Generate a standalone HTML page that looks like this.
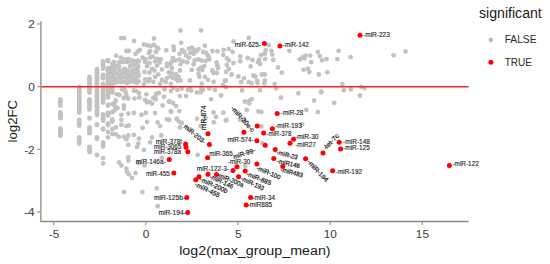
<!DOCTYPE html><html><head><meta charset="utf-8"><style>html,body{margin:0;padding:0;background:#fff;}svg{display:block;}text{font-family:"Liberation Sans",sans-serif;}</style></head><body>
<svg width="550" height="264" viewBox="0 0 550 264">
<rect width="550" height="264" fill="#fff"/>
<g fill="#c2c2c2"><circle cx="121.2" cy="38.1" r="2.4"/><circle cx="124.2" cy="38.1" r="2.4"/><circle cx="134.1" cy="40.9" r="2.4"/><circle cx="154.0" cy="38.5" r="2.4"/><circle cx="180.5" cy="30.5" r="2.4"/><circle cx="181.1" cy="42.8" r="2.4"/><circle cx="143.9" cy="44.5" r="2.4"/><circle cx="147.3" cy="45.3" r="2.4"/><circle cx="150.8" cy="45.9" r="2.4"/><circle cx="154.0" cy="44.9" r="2.4"/><circle cx="156.8" cy="47.6" r="2.4"/><circle cx="158.3" cy="48.7" r="2.4"/><circle cx="139.8" cy="50.0" r="2.4"/><circle cx="137.9" cy="51.4" r="2.4"/><circle cx="135.6" cy="53.8" r="2.4"/><circle cx="126.5" cy="51.0" r="2.4"/><circle cx="128.8" cy="51.0" r="2.4"/><circle cx="150.2" cy="51.0" r="2.4"/><circle cx="148.9" cy="52.9" r="2.4"/><circle cx="155.9" cy="51.9" r="2.4"/><circle cx="166.3" cy="50.4" r="2.4"/><circle cx="173.5" cy="46.3" r="2.4"/><circle cx="173.9" cy="50.0" r="2.4"/><circle cx="182.0" cy="50.0" r="2.4"/><circle cx="184.3" cy="51.9" r="2.4"/><circle cx="179.5" cy="53.8" r="2.4"/><circle cx="189.0" cy="48.7" r="2.4"/><circle cx="191.9" cy="47.6" r="2.4"/><circle cx="193.8" cy="50.0" r="2.4"/><circle cx="196.6" cy="51.0" r="2.4"/><circle cx="198.5" cy="49.1" r="2.4"/><circle cx="190.5" cy="52.9" r="2.4"/><circle cx="193.8" cy="53.8" r="2.4"/><circle cx="186.2" cy="55.7" r="2.4"/><circle cx="189.0" cy="57.6" r="2.4"/><circle cx="201.1" cy="30.4" r="2.4"/><circle cx="116.1" cy="55.7" r="2.4"/><circle cx="107.6" cy="60.1" r="2.4"/><circle cx="102.8" cy="61.4" r="2.4"/><circle cx="120.8" cy="57.6" r="2.4"/><circle cx="124.6" cy="59.5" r="2.4"/><circle cx="128.4" cy="58.9" r="2.4"/><circle cx="132.6" cy="60.5" r="2.4"/><circle cx="136.9" cy="60.8" r="2.4"/><circle cx="142.6" cy="57.6" r="2.4"/><circle cx="145.5" cy="59.5" r="2.4"/><circle cx="150.2" cy="57.6" r="2.4"/><circle cx="152.7" cy="56.7" r="2.4"/><circle cx="156.8" cy="58.9" r="2.4"/><circle cx="160.6" cy="59.5" r="2.4"/><circle cx="172.9" cy="58.2" r="2.4"/><circle cx="175.4" cy="60.5" r="2.4"/><circle cx="179.5" cy="59.5" r="2.4"/><circle cx="183.3" cy="61.4" r="2.4"/><circle cx="187.1" cy="62.3" r="2.4"/><circle cx="194.7" cy="60.5" r="2.4"/><circle cx="198.5" cy="59.5" r="2.4"/><circle cx="248.7" cy="38.0" r="2.4"/><circle cx="233.5" cy="41.4" r="2.4"/><circle cx="268.6" cy="45.2" r="2.4"/><circle cx="228.8" cy="48.9" r="2.4"/><circle cx="232.6" cy="51.8" r="2.4"/><circle cx="226.9" cy="58.4" r="2.4"/><circle cx="228.8" cy="60.3" r="2.4"/><circle cx="233.5" cy="63.1" r="2.4"/><circle cx="240.2" cy="56.5" r="2.4"/><circle cx="240.2" cy="61.3" r="2.4"/><circle cx="247.7" cy="58.0" r="2.4"/><circle cx="252.5" cy="59.9" r="2.4"/><circle cx="250.6" cy="66.4" r="2.4"/><circle cx="259.1" cy="59.9" r="2.4"/><circle cx="260.0" cy="64.1" r="2.4"/><circle cx="258.1" cy="62.2" r="2.4"/><circle cx="261.0" cy="55.0" r="2.4"/><circle cx="264.8" cy="53.7" r="2.4"/><circle cx="265.7" cy="50.5" r="2.4"/><circle cx="271.4" cy="50.8" r="2.4"/><circle cx="272.3" cy="54.6" r="2.4"/><circle cx="265.2" cy="58.8" r="2.4"/><circle cx="273.3" cy="59.9" r="2.4"/><circle cx="278.0" cy="67.5" r="2.4"/><circle cx="289.4" cy="50.8" r="2.4"/><circle cx="281.8" cy="72.6" r="2.4"/><circle cx="299.8" cy="59.4" r="2.4"/><circle cx="302.7" cy="57.5" r="2.4"/><circle cx="305.5" cy="55.6" r="2.4"/><circle cx="310.2" cy="55.6" r="2.4"/><circle cx="304.5" cy="58.4" r="2.4"/><circle cx="311.2" cy="62.2" r="2.4"/><circle cx="317.8" cy="51.8" r="2.4"/><circle cx="319.7" cy="56.1" r="2.4"/><circle cx="322.0" cy="60.3" r="2.4"/><circle cx="303.6" cy="69.8" r="2.4"/><circle cx="308.0" cy="68.8" r="2.4"/><circle cx="309.3" cy="72.0" r="2.4"/><circle cx="318.8" cy="74.5" r="2.4"/><circle cx="228.8" cy="68.8" r="2.4"/><circle cx="231.6" cy="74.5" r="2.4"/><circle cx="238.3" cy="76.4" r="2.4"/><circle cx="243.9" cy="78.3" r="2.4"/><circle cx="253.4" cy="75.5" r="2.4"/><circle cx="255.3" cy="76.4" r="2.4"/><circle cx="261.9" cy="74.5" r="2.4"/><circle cx="264.8" cy="74.5" r="2.4"/><circle cx="338.6" cy="50.8" r="2.4"/><circle cx="326.5" cy="59.1" r="2.4"/><circle cx="337.3" cy="59.1" r="2.4"/><circle cx="350.6" cy="57.2" r="2.4"/><circle cx="393.6" cy="55.3" r="2.4"/><circle cx="405.5" cy="51.4" r="2.4"/><circle cx="327.3" cy="72.3" r="2.4"/><circle cx="342.4" cy="84.1" r="2.4"/><circle cx="343.9" cy="90.2" r="2.4"/><circle cx="350.9" cy="89.2" r="2.4"/><circle cx="361.4" cy="86.9" r="2.4"/><circle cx="364.4" cy="88.3" r="2.4"/><circle cx="360.0" cy="95.5" r="2.4"/><circle cx="321.5" cy="92.2" r="2.4"/><circle cx="334.2" cy="102.9" r="2.4"/><circle cx="225.9" cy="80.7" r="2.4"/><circle cx="241.1" cy="82.2" r="2.4"/><circle cx="248.7" cy="82.2" r="2.4"/><circle cx="251.5" cy="83.5" r="2.4"/><circle cx="257.2" cy="80.7" r="2.4"/><circle cx="257.6" cy="83.0" r="2.4"/><circle cx="264.8" cy="80.7" r="2.4"/><circle cx="264.4" cy="83.5" r="2.4"/><circle cx="274.6" cy="84.1" r="2.4"/><circle cx="276.1" cy="88.3" r="2.4"/><circle cx="260.0" cy="90.2" r="2.4"/><circle cx="242.0" cy="90.5" r="2.4"/><circle cx="226.0" cy="87.3" r="2.4"/><circle cx="244.9" cy="101.5" r="2.4"/><circle cx="249.6" cy="100.6" r="2.4"/><circle cx="251.5" cy="99.2" r="2.4"/><circle cx="249.2" cy="103.4" r="2.4"/><circle cx="246.8" cy="110.0" r="2.4"/><circle cx="225.9" cy="120.5" r="2.4"/><circle cx="243.9" cy="118.9" r="2.4"/><circle cx="298.4" cy="93.4" r="2.4"/><circle cx="320.9" cy="91.7" r="2.4"/><circle cx="280.9" cy="97.7" r="2.4"/><circle cx="314.1" cy="100.6" r="2.4"/><circle cx="306.4" cy="110.0" r="2.4"/><circle cx="317.9" cy="112.2" r="2.4"/><circle cx="302.2" cy="124.5" r="2.4"/><circle cx="258.4" cy="111.4" r="2.4"/><circle cx="261.3" cy="111.9" r="2.4"/><circle cx="261.3" cy="126.5" r="2.4"/><circle cx="262.4" cy="143.2" r="2.4"/><circle cx="204.8" cy="45.7" r="2.4"/><circle cx="203.3" cy="51.9" r="2.4"/><circle cx="206.1" cy="52.9" r="2.4"/><circle cx="208.0" cy="55.7" r="2.4"/><circle cx="208.9" cy="57.6" r="2.4"/><circle cx="212.3" cy="51.0" r="2.4"/><circle cx="217.5" cy="51.4" r="2.4"/><circle cx="223.7" cy="50.0" r="2.4"/><circle cx="223.1" cy="54.8" r="2.4"/><circle cx="201.4" cy="60.5" r="2.4"/><circle cx="216.5" cy="62.3" r="2.4"/><circle cx="60.4" cy="99.3" r="2.4"/><circle cx="60.4" cy="100.9" r="2.4"/><circle cx="60.4" cy="102.5" r="2.4"/><circle cx="60.4" cy="104.1" r="2.4"/><circle cx="60.4" cy="105.7" r="2.4"/><circle cx="60.4" cy="112.4" r="2.4"/><circle cx="60.4" cy="113.8" r="2.4"/><circle cx="60.4" cy="115.3" r="2.4"/><circle cx="60.4" cy="116.8" r="2.4"/><circle cx="60.4" cy="118.2" r="2.4"/><circle cx="60.4" cy="128.7" r="2.4"/><circle cx="60.4" cy="130.1" r="2.4"/><circle cx="60.4" cy="131.5" r="2.4"/><circle cx="60.4" cy="132.9" r="2.4"/><circle cx="60.4" cy="134.3" r="2.4"/><circle cx="60.4" cy="135.7" r="2.4"/><circle cx="79.2" cy="86.9" r="2.4"/><circle cx="79.2" cy="88.4" r="2.4"/><circle cx="79.2" cy="89.9" r="2.4"/><circle cx="79.2" cy="91.4" r="2.4"/><circle cx="79.2" cy="92.9" r="2.4"/><circle cx="79.2" cy="94.5" r="2.4"/><circle cx="79.2" cy="96.0" r="2.4"/><circle cx="79.2" cy="97.5" r="2.4"/><circle cx="79.2" cy="99.0" r="2.4"/><circle cx="79.2" cy="100.5" r="2.4"/><circle cx="79.2" cy="102.0" r="2.4"/><circle cx="79.2" cy="103.5" r="2.4"/><circle cx="79.2" cy="105.0" r="2.4"/><circle cx="79.2" cy="106.6" r="2.4"/><circle cx="79.2" cy="108.1" r="2.4"/><circle cx="79.2" cy="109.6" r="2.4"/><circle cx="79.2" cy="111.1" r="2.4"/><circle cx="79.2" cy="112.6" r="2.4"/><circle cx="79.2" cy="119.9" r="2.4"/><circle cx="79.2" cy="121.3" r="2.4"/><circle cx="79.2" cy="122.8" r="2.4"/><circle cx="79.2" cy="124.2" r="2.4"/><circle cx="79.2" cy="125.7" r="2.4"/><circle cx="79.2" cy="137.4" r="2.4"/><circle cx="79.2" cy="138.9" r="2.4"/><circle cx="79.2" cy="140.5" r="2.4"/><circle cx="79.2" cy="142.1" r="2.4"/><circle cx="79.2" cy="143.6" r="2.4"/><circle cx="89.5" cy="77.0" r="2.4"/><circle cx="89.5" cy="78.6" r="2.4"/><circle cx="89.5" cy="80.1" r="2.4"/><circle cx="89.5" cy="81.7" r="2.4"/><circle cx="89.5" cy="83.2" r="2.4"/><circle cx="89.5" cy="84.8" r="2.4"/><circle cx="89.5" cy="86.4" r="2.4"/><circle cx="89.5" cy="87.9" r="2.4"/><circle cx="89.5" cy="89.5" r="2.4"/><circle cx="89.5" cy="91.0" r="2.4"/><circle cx="89.5" cy="92.6" r="2.4"/><circle cx="89.5" cy="99.3" r="2.4"/><circle cx="89.5" cy="100.8" r="2.4"/><circle cx="89.5" cy="102.2" r="2.4"/><circle cx="89.5" cy="103.7" r="2.4"/><circle cx="89.5" cy="105.1" r="2.4"/><circle cx="89.5" cy="106.6" r="2.4"/><circle cx="89.5" cy="108.0" r="2.4"/><circle cx="89.5" cy="109.5" r="2.4"/><circle cx="89.5" cy="118.0" r="2.4"/><circle cx="89.5" cy="118.2" r="2.4"/><circle cx="89.5" cy="127.4" r="2.4"/><circle cx="89.5" cy="128.8" r="2.4"/><circle cx="89.5" cy="130.3" r="2.4"/><circle cx="89.5" cy="131.8" r="2.4"/><circle cx="89.5" cy="133.2" r="2.4"/><circle cx="89.5" cy="146.8" r="2.4"/><circle cx="89.5" cy="148.1" r="2.4"/><circle cx="89.5" cy="149.4" r="2.4"/><circle cx="89.5" cy="150.7" r="2.4"/><circle cx="89.5" cy="152.0" r="2.4"/><circle cx="97.0" cy="69.1" r="2.4"/><circle cx="97.0" cy="70.7" r="2.4"/><circle cx="97.0" cy="72.3" r="2.4"/><circle cx="97.0" cy="73.9" r="2.4"/><circle cx="97.0" cy="75.4" r="2.4"/><circle cx="97.0" cy="77.0" r="2.4"/><circle cx="97.0" cy="78.6" r="2.4"/><circle cx="97.0" cy="80.2" r="2.4"/><circle cx="97.0" cy="81.8" r="2.4"/><circle cx="97.0" cy="83.4" r="2.4"/><circle cx="97.0" cy="85.0" r="2.4"/><circle cx="97.0" cy="86.5" r="2.4"/><circle cx="97.0" cy="88.1" r="2.4"/><circle cx="97.0" cy="89.7" r="2.4"/><circle cx="97.0" cy="91.3" r="2.4"/><circle cx="97.0" cy="92.9" r="2.4"/><circle cx="97.0" cy="94.5" r="2.4"/><circle cx="97.0" cy="96.1" r="2.4"/><circle cx="97.0" cy="97.7" r="2.4"/><circle cx="97.0" cy="99.2" r="2.4"/><circle cx="97.0" cy="100.8" r="2.4"/><circle cx="97.0" cy="102.4" r="2.4"/><circle cx="97.0" cy="104.0" r="2.4"/><circle cx="97.0" cy="105.6" r="2.4"/><circle cx="97.0" cy="107.2" r="2.4"/><circle cx="97.0" cy="108.8" r="2.4"/><circle cx="97.0" cy="110.3" r="2.4"/><circle cx="97.0" cy="111.9" r="2.4"/><circle cx="97.0" cy="113.5" r="2.4"/><circle cx="97.0" cy="115.1" r="2.4"/><circle cx="97.0" cy="124.3" r="2.4"/><circle cx="97.0" cy="125.1" r="2.4"/><circle cx="97.0" cy="137.4" r="2.4"/><circle cx="97.0" cy="138.9" r="2.4"/><circle cx="97.0" cy="154.9" r="2.4"/><circle cx="97.0" cy="155.1" r="2.4"/><circle cx="103.1" cy="62.7" r="2.4"/><circle cx="103.1" cy="64.2" r="2.4"/><circle cx="103.1" cy="65.7" r="2.4"/><circle cx="103.1" cy="67.2" r="2.4"/><circle cx="103.1" cy="68.7" r="2.4"/><circle cx="103.1" cy="74.9" r="2.4"/><circle cx="103.1" cy="76.0" r="2.4"/><circle cx="103.1" cy="77.2" r="2.4"/><circle cx="103.1" cy="78.3" r="2.4"/><circle cx="103.1" cy="83.8" r="2.4"/><circle cx="103.1" cy="85.4" r="2.4"/><circle cx="103.1" cy="86.9" r="2.4"/><circle cx="103.1" cy="88.5" r="2.4"/><circle cx="103.1" cy="90.1" r="2.4"/><circle cx="103.1" cy="91.6" r="2.4"/><circle cx="103.1" cy="93.2" r="2.4"/><circle cx="103.1" cy="94.8" r="2.4"/><circle cx="103.1" cy="96.3" r="2.4"/><circle cx="103.1" cy="97.9" r="2.4"/><circle cx="103.1" cy="99.5" r="2.4"/><circle cx="103.1" cy="101.0" r="2.4"/><circle cx="103.1" cy="102.6" r="2.4"/><circle cx="103.1" cy="114.3" r="2.4"/><circle cx="103.1" cy="115.9" r="2.4"/><circle cx="103.1" cy="117.5" r="2.4"/><circle cx="103.1" cy="119.1" r="2.4"/><circle cx="103.1" cy="120.7" r="2.4"/><circle cx="103.1" cy="128.6" r="2.4"/><circle cx="103.1" cy="129.5" r="2.4"/><circle cx="103.1" cy="142.4" r="2.4"/><circle cx="103.1" cy="143.7" r="2.4"/><circle cx="103.1" cy="145.1" r="2.4"/><circle cx="103.1" cy="146.4" r="2.4"/><circle cx="103.1" cy="158.1" r="2.4"/><circle cx="103.1" cy="163.4" r="2.4"/><circle cx="108.0" cy="60.3" r="2.4"/><circle cx="108.0" cy="61.2" r="2.4"/><circle cx="108.0" cy="68.1" r="2.4"/><circle cx="108.0" cy="69.7" r="2.4"/><circle cx="108.0" cy="71.2" r="2.4"/><circle cx="108.0" cy="72.8" r="2.4"/><circle cx="108.0" cy="74.3" r="2.4"/><circle cx="108.0" cy="75.9" r="2.4"/><circle cx="108.0" cy="77.4" r="2.4"/><circle cx="108.0" cy="79.0" r="2.4"/><circle cx="108.0" cy="80.5" r="2.4"/><circle cx="108.0" cy="82.1" r="2.4"/><circle cx="108.0" cy="83.6" r="2.4"/><circle cx="108.0" cy="85.2" r="2.4"/><circle cx="108.0" cy="86.7" r="2.4"/><circle cx="108.0" cy="88.3" r="2.4"/><circle cx="108.0" cy="89.8" r="2.4"/><circle cx="108.0" cy="91.4" r="2.4"/><circle cx="108.0" cy="92.9" r="2.4"/><circle cx="108.0" cy="94.5" r="2.4"/><circle cx="108.0" cy="96.0" r="2.4"/><circle cx="108.0" cy="97.6" r="2.4"/><circle cx="108.0" cy="104.9" r="2.4"/><circle cx="108.0" cy="105.7" r="2.4"/><circle cx="108.0" cy="113.0" r="2.4"/><circle cx="108.0" cy="114.3" r="2.4"/><circle cx="108.0" cy="115.6" r="2.4"/><circle cx="108.0" cy="123.4" r="2.4"/><circle cx="108.0" cy="124.2" r="2.4"/><circle cx="108.0" cy="125.1" r="2.4"/><circle cx="108.0" cy="132.0" r="2.4"/><circle cx="108.0" cy="137.3" r="2.4"/><circle cx="112.3" cy="64.0" r="2.4"/><circle cx="112.3" cy="65.6" r="2.4"/><circle cx="112.3" cy="67.2" r="2.4"/><circle cx="112.3" cy="68.8" r="2.4"/><circle cx="112.3" cy="70.4" r="2.4"/><circle cx="112.3" cy="71.9" r="2.4"/><circle cx="112.3" cy="73.5" r="2.4"/><circle cx="112.3" cy="75.1" r="2.4"/><circle cx="112.3" cy="76.7" r="2.4"/><circle cx="112.3" cy="78.3" r="2.4"/><circle cx="112.3" cy="79.9" r="2.4"/><circle cx="112.3" cy="81.5" r="2.4"/><circle cx="112.3" cy="83.1" r="2.4"/><circle cx="112.3" cy="84.7" r="2.4"/><circle cx="112.3" cy="86.2" r="2.4"/><circle cx="112.3" cy="87.8" r="2.4"/><circle cx="112.3" cy="89.4" r="2.4"/><circle cx="112.3" cy="91.0" r="2.4"/><circle cx="112.3" cy="92.6" r="2.4"/><circle cx="112.3" cy="104.0" r="2.4"/><circle cx="112.3" cy="112.0" r="2.4"/><circle cx="112.3" cy="119.4" r="2.4"/><circle cx="112.3" cy="120.5" r="2.4"/><circle cx="112.3" cy="121.6" r="2.4"/><circle cx="112.3" cy="129.0" r="2.4"/><circle cx="112.3" cy="134.0" r="2.4"/><circle cx="113.9" cy="62.5" r="2.4"/><circle cx="121.4" cy="61.9" r="2.4"/><circle cx="128.3" cy="61.3" r="2.4"/><circle cx="133.9" cy="62.5" r="2.4"/><circle cx="138.9" cy="61.3" r="2.4"/><circle cx="145.1" cy="61.9" r="2.4"/><circle cx="149.5" cy="63.1" r="2.4"/><circle cx="155.1" cy="61.3" r="2.4"/><circle cx="159.5" cy="62.5" r="2.4"/><circle cx="167.0" cy="63.8" r="2.4"/><circle cx="171.4" cy="61.9" r="2.4"/><circle cx="114.5" cy="67.5" r="2.4"/><circle cx="118.9" cy="66.3" r="2.4"/><circle cx="124.5" cy="68.8" r="2.4"/><circle cx="130.8" cy="65.6" r="2.4"/><circle cx="136.4" cy="68.1" r="2.4"/><circle cx="147.0" cy="66.3" r="2.4"/><circle cx="152.0" cy="68.8" r="2.4"/><circle cx="157.0" cy="65.6" r="2.4"/><circle cx="162.0" cy="69.4" r="2.4"/><circle cx="167.0" cy="66.3" r="2.4"/><circle cx="113.3" cy="72.5" r="2.4"/><circle cx="117.6" cy="73.8" r="2.4"/><circle cx="123.3" cy="71.9" r="2.4"/><circle cx="127.0" cy="73.1" r="2.4"/><circle cx="132.6" cy="72.5" r="2.4"/><circle cx="137.6" cy="71.3" r="2.4"/><circle cx="144.5" cy="71.9" r="2.4"/><circle cx="149.5" cy="72.5" r="2.4"/><circle cx="154.5" cy="70.6" r="2.4"/><circle cx="158.3" cy="74.4" r="2.4"/><circle cx="168.9" cy="72.5" r="2.4"/><circle cx="115.1" cy="78.1" r="2.4"/><circle cx="120.8" cy="76.9" r="2.4"/><circle cx="125.8" cy="77.5" r="2.4"/><circle cx="130.8" cy="76.3" r="2.4"/><circle cx="135.1" cy="78.8" r="2.4"/><circle cx="138.9" cy="75.6" r="2.4"/><circle cx="145.1" cy="79.4" r="2.4"/><circle cx="149.5" cy="78.8" r="2.4"/><circle cx="155.1" cy="76.9" r="2.4"/><circle cx="162.0" cy="80.0" r="2.4"/><circle cx="167.0" cy="78.1" r="2.4"/><circle cx="170.8" cy="76.3" r="2.4"/><circle cx="115.8" cy="82.5" r="2.4"/><circle cx="121.4" cy="81.9" r="2.4"/><circle cx="127.0" cy="83.1" r="2.4"/><circle cx="132.0" cy="81.3" r="2.4"/><circle cx="136.4" cy="83.1" r="2.4"/><circle cx="143.9" cy="83.8" r="2.4"/><circle cx="148.3" cy="81.3" r="2.4"/><circle cx="153.3" cy="81.9" r="2.4"/><circle cx="160.1" cy="83.8" r="2.4"/><circle cx="165.8" cy="81.9" r="2.4"/><circle cx="170.8" cy="83.8" r="2.4"/><circle cx="193.6" cy="64.3" r="2.4"/><circle cx="205.5" cy="61.1" r="2.4"/><circle cx="209.3" cy="59.3" r="2.4"/><circle cx="170.5" cy="63.6" r="2.4"/><circle cx="180.5" cy="64.3" r="2.4"/><circle cx="171.8" cy="68.0" r="2.4"/><circle cx="191.8" cy="69.9" r="2.4"/><circle cx="198.6" cy="69.3" r="2.4"/><circle cx="201.1" cy="67.4" r="2.4"/><circle cx="202.4" cy="69.9" r="2.4"/><circle cx="204.3" cy="66.1" r="2.4"/><circle cx="179.9" cy="70.5" r="2.4"/><circle cx="217.4" cy="65.5" r="2.4"/><circle cx="218.0" cy="68.0" r="2.4"/><circle cx="226.8" cy="64.9" r="2.4"/><circle cx="212.4" cy="70.5" r="2.4"/><circle cx="213.6" cy="73.0" r="2.4"/><circle cx="216.8" cy="73.0" r="2.4"/><circle cx="226.1" cy="71.8" r="2.4"/><circle cx="171.8" cy="73.0" r="2.4"/><circle cx="176.1" cy="74.3" r="2.4"/><circle cx="178.6" cy="76.8" r="2.4"/><circle cx="173.0" cy="78.0" r="2.4"/><circle cx="175.5" cy="78.6" r="2.4"/><circle cx="177.4" cy="80.5" r="2.4"/><circle cx="180.5" cy="80.5" r="2.4"/><circle cx="198.6" cy="73.6" r="2.4"/><circle cx="199.3" cy="76.8" r="2.4"/><circle cx="204.9" cy="76.8" r="2.4"/><circle cx="208.0" cy="79.9" r="2.4"/><circle cx="189.9" cy="80.5" r="2.4"/><circle cx="213.6" cy="81.8" r="2.4"/><circle cx="224.9" cy="80.5" r="2.4"/><circle cx="201.8" cy="83.6" r="2.4"/><circle cx="173.0" cy="88.0" r="2.4"/><circle cx="177.4" cy="89.9" r="2.4"/><circle cx="188.0" cy="89.9" r="2.4"/><circle cx="189.9" cy="88.6" r="2.4"/><circle cx="201.1" cy="88.0" r="2.4"/><circle cx="203.0" cy="89.9" r="2.4"/><circle cx="209.3" cy="88.6" r="2.4"/><circle cx="214.9" cy="89.9" r="2.4"/><circle cx="223.0" cy="84.9" r="2.4"/><circle cx="122.0" cy="89.3" r="2.4"/><circle cx="124.5" cy="89.9" r="2.4"/><circle cx="117.0" cy="94.3" r="2.4"/><circle cx="119.5" cy="94.9" r="2.4"/><circle cx="125.8" cy="92.4" r="2.4"/><circle cx="126.4" cy="95.5" r="2.4"/><circle cx="123.9" cy="98.0" r="2.4"/><circle cx="128.3" cy="98.6" r="2.4"/><circle cx="133.9" cy="90.5" r="2.4"/><circle cx="136.4" cy="91.1" r="2.4"/><circle cx="138.9" cy="93.0" r="2.4"/><circle cx="134.5" cy="98.6" r="2.4"/><circle cx="139.5" cy="97.4" r="2.4"/><circle cx="146.4" cy="94.3" r="2.4"/><circle cx="145.1" cy="99.9" r="2.4"/><circle cx="147.0" cy="102.4" r="2.4"/><circle cx="149.5" cy="101.8" r="2.4"/><circle cx="152.0" cy="103.6" r="2.4"/><circle cx="153.3" cy="98.0" r="2.4"/><circle cx="155.8" cy="99.3" r="2.4"/><circle cx="155.1" cy="96.8" r="2.4"/><circle cx="156.4" cy="93.6" r="2.4"/><circle cx="158.9" cy="93.0" r="2.4"/><circle cx="163.9" cy="96.8" r="2.4"/><circle cx="164.5" cy="89.3" r="2.4"/><circle cx="168.9" cy="101.8" r="2.4"/><circle cx="170.8" cy="91.1" r="2.4"/><circle cx="115.8" cy="100.5" r="2.4"/><circle cx="114.5" cy="103.0" r="2.4"/><circle cx="115.1" cy="106.8" r="2.4"/><circle cx="117.6" cy="108.0" r="2.4"/><circle cx="114.5" cy="110.5" r="2.4"/><circle cx="123.9" cy="105.5" r="2.4"/><circle cx="123.9" cy="108.6" r="2.4"/><circle cx="162.6" cy="105.5" r="2.4"/><circle cx="170.8" cy="111.1" r="2.4"/><circle cx="121.4" cy="114.9" r="2.4"/><circle cx="128.3" cy="113.6" r="2.4"/><circle cx="133.9" cy="113.0" r="2.4"/><circle cx="141.4" cy="114.9" r="2.4"/><circle cx="145.8" cy="113.0" r="2.4"/><circle cx="155.1" cy="113.0" r="2.4"/><circle cx="167.0" cy="119.3" r="2.4"/><circle cx="181.8" cy="88.6" r="2.4"/><circle cx="191.1" cy="90.5" r="2.4"/><circle cx="196.8" cy="92.4" r="2.4"/><circle cx="200.5" cy="92.4" r="2.4"/><circle cx="179.9" cy="96.1" r="2.4"/><circle cx="186.1" cy="96.1" r="2.4"/><circle cx="221.1" cy="95.5" r="2.4"/><circle cx="211.1" cy="99.3" r="2.4"/><circle cx="169.3" cy="101.1" r="2.4"/><circle cx="173.0" cy="103.0" r="2.4"/><circle cx="176.1" cy="106.1" r="2.4"/><circle cx="171.1" cy="111.8" r="2.4"/><circle cx="179.3" cy="111.1" r="2.4"/><circle cx="213.5" cy="112.4" r="2.4"/><circle cx="216.0" cy="116.9" r="2.4"/><circle cx="223.3" cy="112.7" r="2.4"/><circle cx="176.8" cy="118.6" r="2.4"/><circle cx="197.0" cy="118.8" r="2.4"/><circle cx="205.5" cy="118.0" r="2.4"/><circle cx="226.4" cy="119.9" r="2.4"/><circle cx="213.7" cy="122.3" r="2.4"/><circle cx="121.4" cy="119.9" r="2.4"/><circle cx="121.4" cy="124.9" r="2.4"/><circle cx="126.4" cy="126.1" r="2.4"/><circle cx="128.9" cy="125.5" r="2.4"/><circle cx="115.8" cy="127.4" r="2.4"/><circle cx="142.6" cy="128.0" r="2.4"/><circle cx="147.0" cy="121.8" r="2.4"/><circle cx="157.6" cy="122.4" r="2.4"/><circle cx="160.1" cy="126.1" r="2.4"/><circle cx="115.8" cy="134.3" r="2.4"/><circle cx="118.9" cy="136.8" r="2.4"/><circle cx="123.9" cy="136.8" r="2.4"/><circle cx="126.4" cy="139.3" r="2.4"/><circle cx="128.3" cy="135.5" r="2.4"/><circle cx="133.9" cy="134.9" r="2.4"/><circle cx="138.9" cy="138.6" r="2.4"/><circle cx="152.0" cy="137.4" r="2.4"/><circle cx="161.4" cy="135.5" r="2.4"/><circle cx="128.3" cy="144.9" r="2.4"/><circle cx="138.3" cy="143.6" r="2.4"/><circle cx="137.0" cy="146.8" r="2.4"/><circle cx="150.1" cy="142.4" r="2.4"/><circle cx="143.9" cy="149.9" r="2.4"/><circle cx="169.3" cy="119.9" r="2.4"/><circle cx="176.8" cy="119.3" r="2.4"/><circle cx="179.3" cy="121.8" r="2.4"/><circle cx="181.8" cy="123.0" r="2.4"/><circle cx="179.9" cy="127.4" r="2.4"/><circle cx="200.5" cy="126.1" r="2.4"/><circle cx="128.3" cy="157.4" r="2.4"/><circle cx="128.3" cy="160.5" r="2.4"/><circle cx="118.9" cy="162.4" r="2.4"/><circle cx="121.4" cy="165.5" r="2.4"/><circle cx="126.4" cy="168.6" r="2.4"/><circle cx="127.0" cy="171.8" r="2.4"/><circle cx="128.9" cy="174.3" r="2.4"/><circle cx="132.0" cy="178.0" r="2.4"/><circle cx="135.6" cy="173.0" r="2.4"/><circle cx="161.9" cy="157.8" r="2.4"/><circle cx="144.5" cy="165.4" r="2.4"/><circle cx="138.5" cy="163.0" r="2.4"/><circle cx="124.0" cy="192.1" r="2.4"/><circle cx="142.4" cy="192.1" r="2.4"/><circle cx="156.7" cy="188.5" r="2.4"/><circle cx="157.7" cy="206.2" r="2.4"/><circle cx="197.6" cy="154.8" r="2.4"/><circle cx="245.3" cy="166.1" r="2.4"/><circle cx="239.8" cy="119.5" r="2.4"/><circle cx="114.1" cy="62.2" r="2.4"/><circle cx="119.2" cy="62.2" r="2.4"/><circle cx="123.4" cy="62.2" r="2.4"/><circle cx="127.3" cy="62.1" r="2.4"/><circle cx="132.6" cy="62.1" r="2.4"/><circle cx="136.8" cy="62.7" r="2.4"/><circle cx="116.7" cy="66.2" r="2.4"/><circle cx="130.3" cy="66.5" r="2.4"/><circle cx="134.8" cy="65.8" r="2.4"/><circle cx="138.2" cy="66.5" r="2.4"/><circle cx="114.5" cy="70.1" r="2.4"/><circle cx="119.4" cy="69.9" r="2.4"/><circle cx="123.8" cy="70.2" r="2.4"/><circle cx="127.8" cy="70.3" r="2.4"/><circle cx="132.6" cy="70.4" r="2.4"/><circle cx="137.1" cy="69.6" r="2.4"/><circle cx="116.9" cy="73.7" r="2.4"/><circle cx="121.4" cy="74.4" r="2.4"/><circle cx="125.9" cy="73.6" r="2.4"/><circle cx="129.3" cy="73.8" r="2.4"/><circle cx="134.1" cy="73.8" r="2.4"/><circle cx="138.4" cy="74.4" r="2.4"/><circle cx="114.4" cy="78.1" r="2.4"/><circle cx="119.4" cy="78.1" r="2.4"/><circle cx="122.8" cy="77.5" r="2.4"/><circle cx="127.9" cy="77.8" r="2.4"/><circle cx="132.0" cy="78.3" r="2.4"/><circle cx="136.5" cy="77.7" r="2.4"/><circle cx="116.7" cy="81.9" r="2.4"/><circle cx="120.6" cy="81.8" r="2.4"/><circle cx="125.1" cy="81.9" r="2.4"/><circle cx="129.3" cy="81.8" r="2.4"/><circle cx="133.9" cy="81.4" r="2.4"/><circle cx="138.6" cy="81.3" r="2.4"/></g>
<line x1="41" y1="86.7" x2="468.6" y2="86.7" stroke="#ff2020" stroke-width="1.5"/>
<g fill="#ff0000"><circle cx="264.4" cy="43.6" r="2.5"/><circle cx="279.9" cy="45.9" r="2.5"/><circle cx="360" cy="35.3" r="2.5"/><circle cx="277.2" cy="113.4" r="2.5"/><circle cx="257.2" cy="126.1" r="2.5"/><circle cx="272.4" cy="128.8" r="2.5"/><circle cx="263.6" cy="132.9" r="2.5"/><circle cx="243.9" cy="132.2" r="2.5"/><circle cx="256.9" cy="140.8" r="2.5"/><circle cx="265.2" cy="145.3" r="2.5"/><circle cx="275.2" cy="149.4" r="2.5"/><circle cx="293.5" cy="139.2" r="2.5"/><circle cx="290" cy="143.2" r="2.5"/><circle cx="323" cy="152.9" r="2.5"/><circle cx="339.2" cy="142.3" r="2.5"/><circle cx="340.6" cy="148.9" r="2.5"/><circle cx="305.6" cy="158.7" r="2.5"/><circle cx="332.6" cy="170.8" r="2.5"/><circle cx="449.4" cy="165.4" r="2.5"/><circle cx="273.8" cy="158.5" r="2.5"/><circle cx="282.8" cy="166.5" r="2.5"/><circle cx="256.9" cy="164.1" r="2.5"/><circle cx="208" cy="133.7" r="2.5"/><circle cx="209.4" cy="144.4" r="2.5"/><circle cx="185.5" cy="143.9" r="2.5"/><circle cx="186" cy="147.3" r="2.5"/><circle cx="187.8" cy="151.8" r="2.5"/><circle cx="169.2" cy="159.6" r="2.5"/><circle cx="173.8" cy="173" r="2.5"/><circle cx="207.6" cy="157.8" r="2.5"/><circle cx="237" cy="166.7" r="2.5"/><circle cx="233" cy="170.5" r="2.5"/><circle cx="245.2" cy="171" r="2.5"/><circle cx="238.6" cy="176.7" r="2.5"/><circle cx="216.5" cy="174.5" r="2.5"/><circle cx="208" cy="174.3" r="2.5"/><circle cx="199" cy="176.7" r="2.5"/><circle cx="195.8" cy="179.8" r="2.5"/><circle cx="250.6" cy="197.4" r="2.5"/><circle cx="246.2" cy="204.9" r="2.5"/><circle cx="186.8" cy="197.6" r="2.5"/><circle cx="187.7" cy="212.4" r="2.5"/></g>
<g font-size="6.5" fill="#1a1a1a" stroke="#1a1a1a" stroke-width="0.12"><text x="234.8" y="44.8" dy="2.1" textLength="26.2" lengthAdjust="spacingAndGlyphs">miR-625-</text><text x="282.8" y="45.2" dy="2.1" textLength="25.9" lengthAdjust="spacingAndGlyphs">-miR-142</text><text x="363.1" y="34.8" dy="2.1" textLength="26.7" lengthAdjust="spacingAndGlyphs">-miR-223</text><text x="280.9" y="112.8" dy="2.1" textLength="22.4" lengthAdjust="spacingAndGlyphs">-miR-28</text><text x="275.2" y="126.1" dy="2.1" textLength="26.6" lengthAdjust="spacingAndGlyphs">-miR-193</text><text x="266.4" y="133.5" dy="2.1" textLength="25.0" lengthAdjust="spacingAndGlyphs">-miR-378</text><text x="295.2" y="136.4" dy="2.1" textLength="23.3" lengthAdjust="spacingAndGlyphs">-miR-30</text><text x="295.2" y="144.5" dy="2.1" textLength="20.7" lengthAdjust="spacingAndGlyphs">-miR27</text><text x="343.1" y="141.5" dy="2.1" textLength="26.9" lengthAdjust="spacingAndGlyphs">-miR-148</text><text x="343.1" y="147.5" dy="2.1" textLength="26.7" lengthAdjust="spacingAndGlyphs">-miR-125</text><text x="335.8" y="171.6" dy="2.1" textLength="26.2" lengthAdjust="spacingAndGlyphs">-miR-192</text><text x="452.4" y="164.3" dy="2.1" textLength="26.4" lengthAdjust="spacingAndGlyphs">-miR-122</text><text x="227.5" y="140" dy="2.1" textLength="26.3" lengthAdjust="spacingAndGlyphs">miR-574-</text><text x="155.7" y="141.8" dy="2.1" textLength="26.1" lengthAdjust="spacingAndGlyphs">miR-378i</text><text x="154" y="146.6" dy="2.1" textLength="27.3" lengthAdjust="spacingAndGlyphs">miR-3065</text><text x="154" y="151.5" dy="2.1" textLength="26.9" lengthAdjust="spacingAndGlyphs">miR-378a</text><text x="135.8" y="161.4" dy="2.1" textLength="29.8" lengthAdjust="spacingAndGlyphs">miR-146a-</text><text x="145.9" y="173.8" dy="2.1" textLength="23.8" lengthAdjust="spacingAndGlyphs">miR-455</text><text x="209.3" y="153.9" dy="2.1" textLength="23.4" lengthAdjust="spacingAndGlyphs">miR-365</text><text x="227.8" y="162.1" dy="2.1" textLength="22.4" lengthAdjust="spacingAndGlyphs">-miR-30</text><text x="196.8" y="168.8" dy="2.1" textLength="32.1" lengthAdjust="spacingAndGlyphs">miR-122-3-</text><text x="252.5" y="197.4" dy="2.1" textLength="22.5" lengthAdjust="spacingAndGlyphs">-miR-34</text><text x="247.6" y="204.9" dy="2.1" textLength="24.5" lengthAdjust="spacingAndGlyphs">-miR885</text><text x="154" y="197.6" dy="2.1" textLength="31.1" lengthAdjust="spacingAndGlyphs">miR-125b-</text><text x="158.6" y="212.4" dy="2.1" textLength="27.2" lengthAdjust="spacingAndGlyphs">miR-194-</text><text x="203.7" y="130.3" dy="2.1" textLength="24.6" lengthAdjust="spacingAndGlyphs" transform="rotate(-90.0 203.7 130.3)" stroke-width="0.22">miR-874</text><text x="184.7" y="125.6" dy="2.1" textLength="26.2" lengthAdjust="spacingAndGlyphs" transform="rotate(40.5 184.7 125.6)" stroke-width="0.22">miR-203-</text><text x="232.2" y="107.2" dy="2.1" textLength="32.0" lengthAdjust="spacingAndGlyphs" transform="rotate(48.5 232.2 107.2)" stroke-width="0.22">-miR-30e-c</text><text x="233.3" y="157.2" dy="2.1" textLength="22.9" lengthAdjust="spacingAndGlyphs" transform="rotate(-18.0 233.3 157.2)" stroke-width="0.22">miR-99-</text><text x="324.2" y="148.9" dy="2.1" textLength="19.7" lengthAdjust="spacingAndGlyphs" transform="rotate(-46.2 324.2 148.9)" stroke-width="0.22">-let-7c</text><text x="308.6" y="161" dy="2.1" textLength="27.2" lengthAdjust="spacingAndGlyphs" transform="rotate(46.9 308.6 161)" stroke-width="0.22">-miR-194</text><text x="276.9" y="152.3" dy="2.1" textLength="21.2" lengthAdjust="spacingAndGlyphs" transform="rotate(14.5 276.9 152.3)" stroke-width="0.22">-miR-23</text><text x="276.9" y="160.9" dy="2.1" textLength="23.7" lengthAdjust="spacingAndGlyphs" transform="rotate(12.9 276.9 160.9)" stroke-width="0.22">-miR146</text><text x="280.8" y="169.5" dy="2.1" textLength="22.7" lengthAdjust="spacingAndGlyphs" transform="rotate(15.3 280.8 169.5)" stroke-width="0.22">-miR483</text><text x="257" y="167.7" dy="2.1" textLength="25.3" lengthAdjust="spacingAndGlyphs" transform="rotate(23.3 257 167.7)" stroke-width="0.22">-miR-100</text><text x="246.5" y="173.6" dy="2.1" textLength="26.4" lengthAdjust="spacingAndGlyphs" transform="rotate(22.0 246.5 173.6)" stroke-width="0.22">-miR-885</text><text x="241.2" y="178.2" dy="2.1" textLength="24.9" lengthAdjust="spacingAndGlyphs" transform="rotate(25.2 241.2 178.2)" stroke-width="0.22">-miR-193</text><text x="217.3" y="174.5" dy="2.1" textLength="28.2" lengthAdjust="spacingAndGlyphs" transform="rotate(22.5 217.3 174.5)" stroke-width="0.22">-miR-200a</text><text x="209.9" y="176.3" dy="2.1" textLength="25.6" lengthAdjust="spacingAndGlyphs" transform="rotate(24.7 209.9 176.3)" stroke-width="0.22">-miR-146</text><text x="200.2" y="179.1" dy="2.1" textLength="30.0" lengthAdjust="spacingAndGlyphs" transform="rotate(24.6 200.2 179.1)" stroke-width="0.22">-miR-200b</text><text x="195.1" y="184.2" dy="2.1" textLength="26.9" lengthAdjust="spacingAndGlyphs" transform="rotate(25.0 195.1 184.2)" stroke-width="0.22">-miR-455</text></g>
<g stroke="#8a8a8a" stroke-width="1.3" fill="none"><path d="M40.9 21.3 V221.5 H468.6"/></g>
<g stroke="#8a8a8a" stroke-width="1.1"><line x1="53.8" y1="221.5" x2="53.8" y2="224.9"/><line x1="145.9" y1="221.5" x2="145.9" y2="224.9"/><line x1="238.0" y1="221.5" x2="238.0" y2="224.9"/><line x1="330.1" y1="221.5" x2="330.1" y2="224.9"/><line x1="422.2" y1="221.5" x2="422.2" y2="224.9"/><line x1="37.3" y1="24.0" x2="40.9" y2="24.0"/><line x1="37.3" y1="86.7" x2="40.9" y2="86.7"/><line x1="37.3" y1="149.4" x2="40.9" y2="149.4"/><line x1="37.3" y1="212.0" x2="40.9" y2="212.0"/></g>
<g font-size="11.8" fill="#444" stroke="#444" stroke-width="0.08"><text x="54.0" y="237.6" text-anchor="middle">-5</text><text x="146.1" y="237.6" text-anchor="middle">0</text><text x="238.2" y="237.6" text-anchor="middle">5</text><text x="330.3" y="237.6" text-anchor="middle">10</text><text x="422.4" y="237.6" text-anchor="middle">15</text><text x="34.7" y="28.2" text-anchor="end">2</text><text x="34.7" y="90.9" text-anchor="end">0</text><text x="34.7" y="153.6" text-anchor="end">-2</text><text x="34.7" y="216.2" text-anchor="end">-4</text></g>
<text x="179.2" y="254.6" font-size="12.3" fill="#1a1a1a" textLength="151.4" lengthAdjust="spacingAndGlyphs">log2(max_group_mean)</text>
<text transform="translate(17.2 142.5) rotate(-90)" font-size="13.4" fill="#1a1a1a" textLength="42.6" lengthAdjust="spacingAndGlyphs">log2FC</text>
<text x="479" y="17.6" font-size="13.8" fill="#1a1a1a" textLength="62.8" lengthAdjust="spacingAndGlyphs">significant</text>
<circle cx="490.9" cy="39.8" r="2.4" fill="#bdbdbd"/>
<circle cx="490.9" cy="62.3" r="2.5" fill="#ff0000"/>
<text x="504.7" y="43.2" font-size="11.8" fill="#2a2a2a" textLength="31.8" lengthAdjust="spacingAndGlyphs">FALSE</text>
<text x="504.7" y="66.0" font-size="11.8" fill="#2a2a2a" textLength="27.3" lengthAdjust="spacingAndGlyphs">TRUE</text>
</svg></body></html>
